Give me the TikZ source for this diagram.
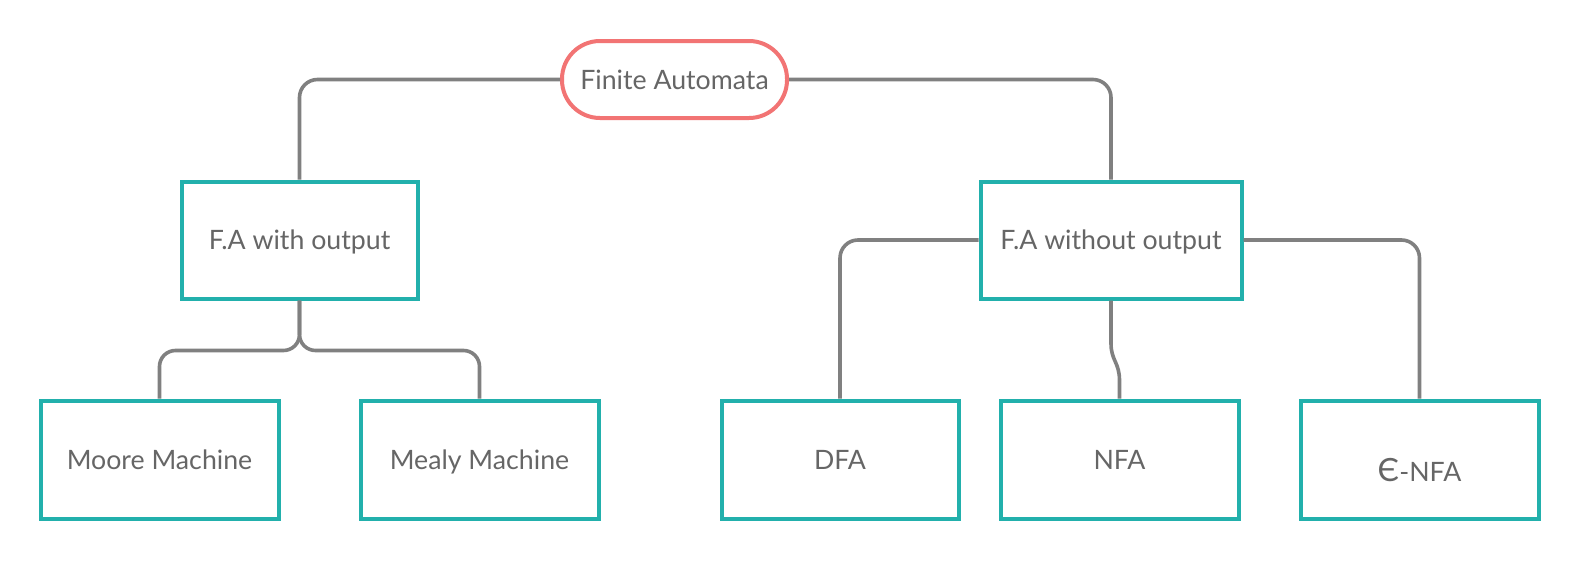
\documentclass[tikz,border=0pt]{standalone}
\usepackage{fontspec}
\setmainfont{Lato}
\definecolor{teal2}{HTML}{22B0AC}
\definecolor{pill}{HTML}{F27474}
\definecolor{conncol}{HTML}{808080}
\definecolor{txt}{HTML}{666666}
\tikzset{
  base/.style={font=\fontsize{26.7}{27}\selectfont, text=txt, inner sep=0pt, text height=19pt, text depth=0pt, align=center},
  fabox/.style={base, draw=teal2, line width=4pt, fill=white},
  pillbox/.style={base, draw=pill, line width=4pt, rounded corners=38pt, fill=white, minimum width=225pt, minimum height=77pt},
  conn/.style={draw=conncol, line width=3.6pt, rounded corners=18pt},
}
\begin{document}
\begin{tikzpicture}[x=1pt,y=-1pt]
\useasboundingbox[fill=white] (0,0) rectangle (1580,560);
\node[pillbox] (fa) at (674.5,79.5) {Finite Automata};
\node[fabox, minimum width=236pt, minimum height=117pt] (wo) at (299.5,240) {F.A with output};
\node[fabox, minimum width=261pt, minimum height=117pt] (wout) at (1111,240) {F.A without output};
\node[fabox, minimum width=238pt, minimum height=118pt] (moore) at (159.5,459.5) {Moore Machine};
\node[fabox, minimum width=238pt, minimum height=118pt] (mealy) at (479.5,459.5) {Mealy Machine};
\node[fabox, minimum width=237pt, minimum height=118pt] (dfa) at (840,459.5) {DFA};
\node[fabox, minimum width=238pt, minimum height=118pt] (nfa) at (1119.5,459.5) {NFA};
\node[fabox, minimum width=238pt, minimum height=118pt] (enfa) at (1419.5,459.5) {\raisebox{-12pt}{{\fontsize{32}{32}\selectfont Є}-NFA}};
\draw[conn] (fa.west) -| (wo.north);
\draw[conn] (fa.east) -| (wout.north);
\draw[conn, rounded corners=16pt] (wo.south) -- ([yshift=-50pt]wo.south) -| (moore.north);
\draw[conn, rounded corners=16pt] (wo.south) -- ([yshift=-50pt]wo.south) -| (mealy.north);
\draw[conn] (wout.west) -| (dfa.north);
\draw[conn] (wout.east) -| (enfa.north);
\draw[conn, rounded corners=0pt] (wout.south) -- ([yshift=-43pt]wout.south)
  .. controls ([yshift=-60pt]wout.south) and ([yshift=36pt]nfa.north) .. ([yshift=18pt]nfa.north) -- (nfa.north);
\end{tikzpicture}
\end{document}
